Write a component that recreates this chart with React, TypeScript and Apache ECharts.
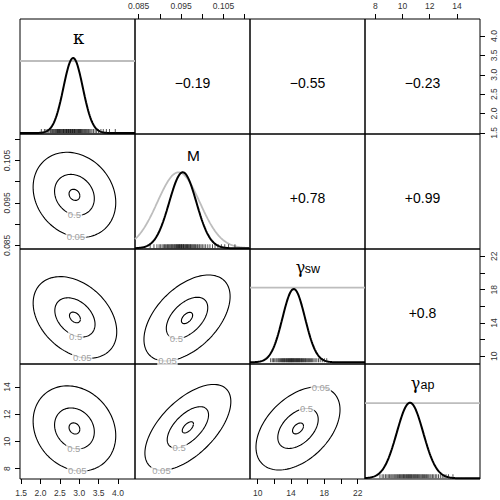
import React, { useEffect, useRef } from "react";
import * as echarts from "echarts";

// ---------- layout constants ----------
const PL = 20;
const PT = 19;
const PS = 115;
const FONT = "'Liberation Sans', Arial, Helvetica, sans-serif";

// ---------- axes (variables: kappa, M, gamma_sw, gamma_ap) ----------
const axisMin = [1.47, 0.08413, 9.08, 7.24];
const axisMax = [4.44, 0.11125, 22.88, 15.7];
const tickValues = [
  [1.5, 2.0, 2.5, 3.0, 3.5, 4.0],
  [0.085, 0.09, 0.095, 0.1, 0.105, 0.11],
  [10, 12, 14, 16, 18, 20, 22],
  [8, 10, 12, 14],
];
const labelValues = [
  [1.5, 2.0, 2.5, 3.0, 3.5, 4.0],
  [0.085, 0.095, 0.105],
  [10, 14, 18, 22],
  [8, 10, 12, 14],
];
const labelDecimals = [1, 3, 0, 0];

// ---------- diagonal panels ----------
const diagYMin = [-0.013, -0.009, -0.023, -0.009];
const diagYMax = [1.52, 1.504, 1.546, 1.513];
const postMean = [2.842, 0.0954, 14.33, 10.55];
const postSd = [0.25, 0.0032, 1.35, 0.97];
const flatPriorLevel = [0.96, null, 1.018, 0.995];
const priorMMean = 0.0944;
const priorMSd = 0.005;

const kappaRug = [2.02, 2.1, 2.14, 2.19, 2.22, 2.26, 2.28, 2.31, 2.33, 2.35, 2.37, 2.39, 2.41, 2.43, 2.44, 2.46, 2.47, 2.49, 2.5, 2.52, 2.53, 2.55, 2.56, 2.58, 2.59, 2.6, 2.61, 2.63, 2.64, 2.66, 2.67, 2.68, 2.69, 2.71, 2.72, 2.73, 2.74, 2.76, 2.77, 2.78, 2.79, 2.81, 2.82, 2.83, 2.84, 2.86, 2.87, 2.88, 2.89, 2.91, 2.92, 2.94, 2.95, 2.97, 2.98, 3.0, 3.01, 3.03, 3.04, 3.06, 3.08, 3.1, 3.12, 3.14, 3.16, 3.19, 3.21, 3.24, 3.27, 3.3, 3.33, 3.37, 3.41, 3.45, 3.5, 3.56, 3.62, 3.7, 3.78, 3.93];
const mRug = [0.0877, 0.0886, 0.0893, 0.0898, 0.0901, 0.0905, 0.0908, 0.0911, 0.0913, 0.0916, 0.0918, 0.092, 0.0922, 0.0924, 0.0926, 0.0928, 0.0929, 0.0931, 0.0933, 0.0935, 0.0936, 0.0938, 0.0939, 0.0941, 0.0942, 0.0944, 0.0945, 0.0946, 0.0947, 0.0949, 0.095, 0.0951, 0.0952, 0.0954, 0.0955, 0.0956, 0.0957, 0.0959, 0.096, 0.0962, 0.0963, 0.0965, 0.0966, 0.0968, 0.0969, 0.0971, 0.0972, 0.0974, 0.0976, 0.0978, 0.098, 0.0982, 0.0984, 0.0987, 0.0989, 0.0992, 0.0994, 0.0997, 0.1, 0.1004, 0.1008, 0.1013, 0.1018, 0.1024, 0.103, 0.1037, 0.1045, 0.1053, 0.1062, 0.1077];
const gswRug = [11.56, 11.75, 11.9, 12.05, 12.2, 12.32, 12.45, 12.55, 12.65, 12.75, 12.85, 12.93, 13.0, 13.08, 13.15, 13.22, 13.3, 13.38, 13.45, 13.52, 13.6, 13.66, 13.72, 13.79, 13.85, 13.91, 13.97, 14.03, 14.08, 14.14, 14.2, 14.26, 14.32, 14.38, 14.45, 14.51, 14.58, 14.64, 14.7, 14.77, 14.83, 14.9, 14.97, 15.03, 15.1, 15.18, 15.25, 15.32, 15.4, 15.48, 15.56, 15.65, 15.73, 15.82, 15.92, 16.02, 16.12, 16.23, 16.35, 16.47, 16.6, 16.75, 16.9, 17.1, 17.3, 17.5, 17.75, 18.0, 18.29];
const gapRug = [8.34, 8.5, 8.62, 8.74, 8.85, 8.95, 9.05, 9.14, 9.22, 9.3, 9.38, 9.45, 9.52, 9.59, 9.65, 9.72, 9.78, 9.84, 9.9, 9.96, 10.02, 10.07, 10.13, 10.18, 10.24, 10.3, 10.35, 10.4, 10.45, 10.5, 10.55, 10.6, 10.65, 10.7, 10.76, 10.82, 10.87, 10.93, 10.98, 11.04, 11.1, 11.16, 11.22, 11.28, 11.35, 11.42, 11.48, 11.55, 11.62, 11.7, 11.77, 11.85, 11.93, 12.02, 12.1, 12.2, 12.3, 12.41, 12.52, 12.65, 12.78, 12.92, 13.05, 13.2, 13.38, 13.71];
const rugs = [kappaRug, mRug, gswRug, gapRug];

// ---------- lower panels: bivariate contours [row, col] ----------
const contourCells = [[1, 0], [2, 0], [2, 1], [3, 0], [3, 1], [3, 2]];
const contourMeanX = [2.876, 2.889, 0.0964, 2.876, 0.0966, 14.84];
const contourMeanY = [0.0969, 14.67, 14.6, 10.96, 11.04, 10.96];
const contourSdX = [0.436, 0.441, 0.00415, 0.436, 0.00414, 2.06];
const contourSdY = [0.0041, 2.0, 2.11, 1.28, 1.29, 1.25];
const contourRho = [-0.18, -0.35, 0.5, -0.17, 0.6, 0.45];
const label05Angle = [-88, -80, -117, -86, -128, 57];
const label5Angle = [-90, -88, -121, -92, -115, 65];
const contourLevels = [0.05, 0.5, 0.95];

// ---------- upper panels: correlations ----------
const corrCells = [[0, 1], [0, 2], [0, 3], [1, 2], [1, 3], [2, 3]];
const corrText = ["−0.19", "−0.55", "−0.23", "+0.78", "+0.99", "+0.8"];

function ellipsePoint(c: number, r: number, tDeg: number) {
  const t = (tDeg * Math.PI) / 180;
  const rho = contourRho[c];
  const x = contourMeanX[c] + r * contourSdX[c] * Math.cos(t);
  const y = contourMeanY[c] + r * contourSdY[c] * (rho * Math.cos(t) + Math.sqrt(1 - rho * rho) * Math.sin(t));
  return [x, y];
}

function normalCurve(mean: number, sd: number, lo: number, hi: number) {
  const pts: number[][] = [];
  const n = 160;
  for (let i = 0; i <= n; i++) {
    const x = lo + ((hi - lo) * i) / n;
    const z = (x - mean) / sd;
    pts.push([x, Math.exp(-0.5 * z * z)]);
  }
  return pts;
}

function buildOption() {
  const grid: any[] = [];
  const xAxis: any[] = [];
  const yAxis: any[] = [];
  const series: any[] = [];
  const graphic: any[] = [];

  const xShow: Record<string, string> = { "3,0": "bottom", "3,2": "bottom", "0,1": "top", "0,3": "top" };
  const yShow: Record<string, string> = { "1,0": "left", "3,0": "left", "0,3": "right", "2,3": "right" };

  for (let i = 0; i < 4; i++) {
    for (let j = 0; j < 4; j++) {
      const k = i * 4 + j;
      grid.push({
        left: PL + j * PS,
        top: PT + i * PS,
        width: PS,
        height: PS,
        show: true,
        borderColor: "#000",
        borderWidth: 1,
        backgroundColor: "transparent",
        containLabel: false,
      });
      const xp = xShow[`${i},${j}`];
      xAxis.push({
        gridIndex: k,
        type: "value",
        min: axisMin[j],
        max: axisMax[j],
        position: xp || "bottom",
        axisLine: { show: false },
        splitLine: { show: false },
        axisTick: xp
          ? { show: true, customValues: tickValues[j], length: 5, inside: false, lineStyle: { color: "#000", width: 1 } }
          : { show: false },
        axisLabel: xp
          ? {
              show: true,
              customValues: labelValues[j],
              formatter: (v: number) => v.toFixed(labelDecimals[j]),
              fontSize: 8.5,
              fontFamily: FONT,
              color: "#333",
              margin: 9,
              hideOverlap: false,
            }
          : { show: false },
      });
      const yp = yShow[`${i},${j}`];
      const diag = i === j;
      yAxis.push({
        gridIndex: k,
        type: "value",
        min: diag ? diagYMin[i] : axisMin[i],
        max: diag ? diagYMax[i] : axisMax[i],
        position: yp || "left",
        axisLine: { show: false },
        splitLine: { show: false },
        axisTick: yp
          ? { show: true, customValues: tickValues[i], length: 5, inside: false, lineStyle: { color: "#000", width: 1 } }
          : { show: false },
        axisLabel: yp
          ? {
              show: true,
              customValues: labelValues[i],
              formatter: (v: number) => v.toFixed(labelDecimals[i]),
              fontSize: 8.5,
              fontFamily: FONT,
              color: "#333",
              margin: 9,
              rotate: 90,
              hideOverlap: false,
            }
          : { show: false },
      });
    }
  }

  // Diagonal panels
  for (let d = 0; d < 4; d++) {
    const k = d * 4 + d;
    const lo = axisMin[d];
    const hi = axisMax[d];
    const lvl = flatPriorLevel[d];
    if (lvl !== null) {
      series.push({
        type: "line",
        xAxisIndex: k,
        yAxisIndex: k,
        data: [[lo, lvl], [hi, lvl]],
        symbol: "none",
        lineStyle: { color: "#bdbdbd", width: 1.8 },
        silent: true,
        z: 2,
      });
    } else {
      series.push({
        type: "line",
        xAxisIndex: k,
        yAxisIndex: k,
        data: normalCurve(priorMMean, priorMSd, lo, hi),
        symbol: "none",
        lineStyle: { color: "#bdbdbd", width: 1.8 },
        silent: true,
        z: 2,
      });
    }
    series.push({
      type: "line",
      xAxisIndex: k,
      yAxisIndex: k,
      data: normalCurve(postMean[d], postSd[d], lo, hi),
      symbol: "none",
      lineStyle: { color: "#000", width: 2 },
      silent: true,
      z: 3,
    });
    series.push({
      type: "scatter",
      xAxisIndex: k,
      yAxisIndex: k,
      data: rugs[d].map((v) => [v, 0]),
      symbol: "rect",
      symbolSize: [0.9, 4],
      symbolOffset: [0, -2],
      itemStyle: { color: "#111" },
      silent: true,
      z: 4,
    });
  }

  // Lower panels: contours
  contourCells.forEach(([i, j], c) => {
    const k = i * 4 + j;
    contourLevels.forEach((lv) => {
      const r = Math.sqrt(-2 * Math.log(lv));
      const pts: number[][] = [];
      for (let a = 0; a <= 360; a += 3) pts.push(ellipsePoint(c, r, a));
      series.push({
        type: "line",
        xAxisIndex: k,
        yAxisIndex: k,
        data: pts,
        symbol: "none",
        lineStyle: { color: "#000", width: 1.1 },
        silent: true,
        z: 2,
      });
    });
    const r05 = Math.sqrt(-2 * Math.log(0.05));
    const r5 = Math.sqrt(-2 * Math.log(0.5));
    series.push({
      type: "scatter",
      xAxisIndex: k,
      yAxisIndex: k,
      data: [
        [...ellipsePoint(c, r05, label05Angle[c]), "0.05"],
        [...ellipsePoint(c, r5, label5Angle[c]), "0.5"],
      ],
      symbolSize: 0.1,
      itemStyle: { color: "#fff" },
      label: {
        show: true,
        position: "inside",
        formatter: (p: any) => p.data[2],
        color: "#8a8a8a",
        fontSize: 9.5,
        fontFamily: FONT,
        backgroundColor: "#fff",
        padding: [0, 1],
      },
      silent: true,
      z: 5,
    });
  });

  // Upper panels: correlation texts
  corrCells.forEach(([i, j], n) => {
    graphic.push({
      type: "text",
      x: PL + j * PS + PS / 2,
      y: PT + i * PS + PS / 2 + 6,
      style: {
        text: corrText[n],
        fill: "#000",
        fontSize: 14,
        fontFamily: FONT,
        textAlign: "center",
        textVerticalAlign: "middle",
      },
    });
  });

  // Diagonal titles
  graphic.push({
    type: "text",
    x: PL + PS / 2 + 1,
    y: PT + 18,
    style: { text: "κ", fill: "#000", fontSize: 18, fontFamily: "'DejaVu Serif', serif", textAlign: "center", textVerticalAlign: "middle" },
  });
  graphic.push({
    type: "text",
    x: PL + PS * 1.5 + 1,
    y: PT + PS + 21,
    style: { text: "M", fill: "#000", fontSize: 15.5, fontFamily: FONT, textAlign: "center", textVerticalAlign: "middle" },
  });
  const gammaTitles = [
    { d: 2, sub: "sw", yOff: 18 },
    { d: 3, sub: "ap", yOff: 19 },
  ];
  gammaTitles.forEach(({ d, sub, yOff }) => {
    const cx = PL + d * PS + PS / 2;
    const cy = PT + d * PS + yOff;
    graphic.push({
      type: "text",
      x: cx - 7,
      y: cy,
      style: { text: "γ", fill: "#000", fontSize: 16, fontFamily: "'DejaVu Serif', serif", textAlign: "center", textVerticalAlign: "middle" },
    });
    graphic.push({
      type: "text",
      x: cx + 5,
      y: cy + 2,
      style: { text: sub, fill: "#000", fontSize: 12.5, fontFamily: FONT, textAlign: "center", textVerticalAlign: "middle" },
    });
  });

  return {
    animation: false,
    backgroundColor: "#fff",
    grid,
    xAxis,
    yAxis,
    series,
    graphic: { elements: graphic },
  };
}

export default function App() {
  const ref = useRef<HTMLDivElement>(null);
  useEffect(() => {
    if (!ref.current) return;
    const chart = echarts.init(ref.current, undefined, { renderer: "svg" });
    chart.setOption(buildOption() as any);
    return () => chart.dispose();
  }, []);
  return <div ref={ref} style={{ position: "absolute", left: 0, top: 0, width: 500, height: 500 }} />;
}
